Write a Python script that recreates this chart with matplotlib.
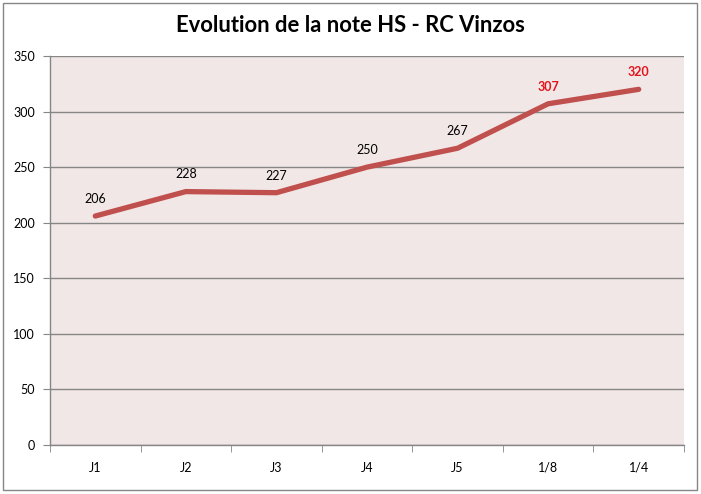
import matplotlib
matplotlib.use("Agg")
import matplotlib.pyplot as plt
from matplotlib.patches import Rectangle

categories = ["J1", "J2", "J3", "J4", "J5", "1/8", "1/4"]
values = [206, 228, 227, 250, 267, 307, 320]
label_colors = ["black", "black", "black", "black", "black", "#E3141B", "#E3141B"]
y_ticks = [0, 50, 100, 150, 200, 250, 300, 350]

plt.rcParams['font.family'] = ['Lato', 'DejaVu Sans']

fig = plt.figure(figsize=(7.01, 4.94), dpi=100)
fig.patch.set_facecolor("white")
ax = fig.add_axes([50/701, 1-445/494, (684-50)/701, (445-56)/494])
ax.set_facecolor("#F2E7E7")

x = list(range(len(categories)))
ax.plot(x, values, color="#C0504D", linewidth=3.8, solid_capstyle="round", solid_joinstyle="round", zorder=3)
for xi, v, c in zip(x, values, label_colors):
    ax.annotate(str(v), (xi, v), xytext=(0, 8), textcoords="offset points",
                ha="center", va="bottom", fontsize=9, color=c,
                fontweight="bold" if c != "black" else "normal")

ax.set_xlim(-0.5, len(categories) - 0.5)
ax.set_ylim(0, 350)
ax.set_yticks(y_ticks)
ax.set_yticklabels([str(t) for t in y_ticks], fontsize=9)
ax.set_xticks(x)
ax.set_xticklabels(categories, fontsize=9)
ax.tick_params(axis="x", length=0, pad=12)
ax.set_xticks([i - 0.5 for i in range(len(categories) + 1)], minor=True)
ax.tick_params(axis="x", which="minor", length=5, color="#868686", direction="out")
ax.tick_params(axis="y", length=5, color="#868686", direction="out", pad=6)
ax.grid(axis="y", color="#868686", linewidth=1)
ax.set_axisbelow(True)
for s in ["top", "right"]:
    ax.spines[s].set_visible(False)
for s in ["left", "bottom"]:
    ax.spines[s].set_color("#868686")
    ax.spines[s].set_linewidth(1)

fig.text(350/701, 1-26/494, "Evolution de la note HS - RC Vinzos", ha="center", va="center",
         fontsize=15.8, fontweight="bold")

fig.patches.append(Rectangle((3/701, 4/494), 694/701, 487/494, transform=fig.transFigure,
                             fill=False, edgecolor="#868686", linewidth=1))

fig.savefig("out.png", dpi=100)
